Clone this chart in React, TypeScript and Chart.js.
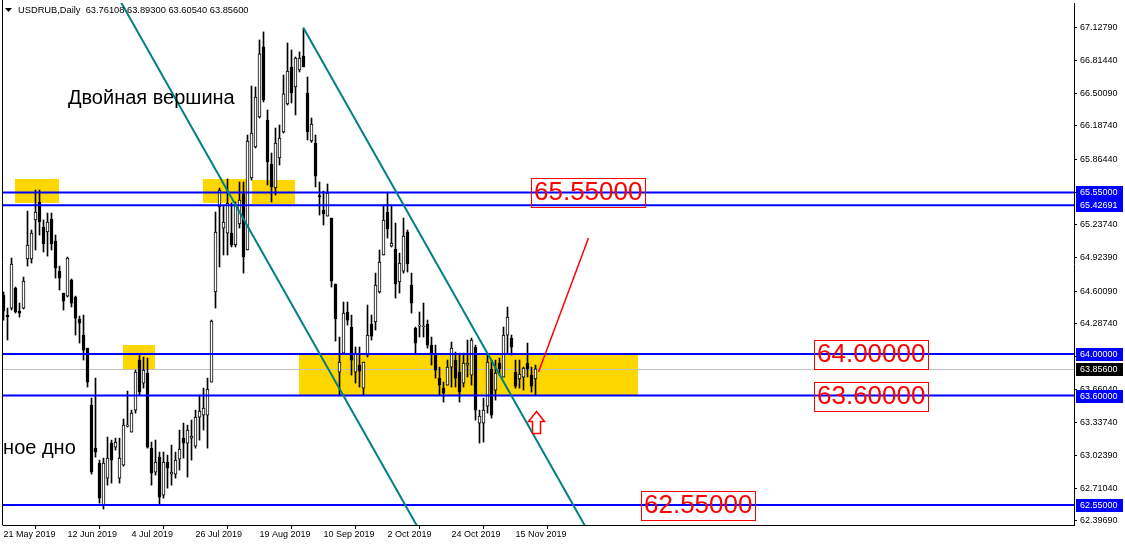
import { useEffect, useRef } from 'react';
import { Chart, registerables } from 'chart.js';
Chart.register(...registerables);

// ---- Daily candles USDRUB, 21 May 2019 .. 25 Nov 2019 (one bar per weekday) ----
const OPEN = [
  64.565, 64.373, 64.44, 64.632, 64.411, 64.44, 64.911, 64.911, 65.285, 65.458,
  65.218, 65.17, 65.295, 65.083, 64.795, 64.584, 64.555, 64.709, 64.546, 64.335,
  64.181, 64.056, 63.509, 63.096, 62.952, 62.549, 62.808, 63.144, 63.106, 62.808,
  62.933, 63.307, 63.25, 63.461, 63.941, 63.72, 63.816, 63.096, 62.866, 63.01,
  62.645, 62.962, 62.847, 62.847, 62.991, 63.192, 63.144, 63.192, 63.115, 63.394,
  63.413, 63.413, 63.73, 64.594, 65.41, 65.208, 65.16, 65.16, 65.045, 65.247,
  65.535, 64.997, 65.688, 65.986, 66.274, 66.946, 66.245, 65.823, 65.592, 65.88,
  66.13, 66.399, 66.754, 66.562, 66.725, 66.859, 66.504, 66.043, 66.024, 65.515,
  65.381, 65.323, 65.304, 64.671, 63.826, 64.008, 64.402, 64.258, 63.826, 63.893,
  63.672, 63.989, 64.287, 64.306, 64.594, 64.949, 65.362, 65.035, 65.007, 64.69,
  64.795, 65.17, 64.661, 64.248, 64.267, 64.258, 64.287, 64.085, 63.989, 63.768,
  63.672, 63.701, 63.874, 63.941, 63.826, 63.72, 63.893, 63.797, 64.066, 63.336,
  63.336, 63.499, 63.855, 63.653, 63.912, 63.778, 64.181, 64.152, 63.826, 63.759,
  63.778, 63.912, 63.797, 63.761,
];
const HIGH = [
  64.594, 64.44, 64.92, 64.642, 64.488, 64.738, 65.371, 65.189, 65.573, 65.573,
  65.285, 65.352, 65.352, 65.141, 64.843, 64.584, 64.93, 64.719, 64.555, 64.363,
  64.373, 64.056, 63.576, 63.768, 62.981, 63.0, 63.202, 63.173, 63.192, 63.192,
  63.375, 63.643, 63.461, 63.845, 63.989, 63.97, 63.96, 63.154, 63.173, 63.058,
  63.058, 63.029, 63.125, 63.058, 63.269, 63.336, 63.317, 63.365, 63.461, 63.605,
  63.672, 63.768, 64.325, 65.362, 65.592, 65.429, 65.679, 65.448, 65.458, 65.65,
  65.65, 66.101, 66.571, 66.562, 67.013, 67.09, 66.341, 65.928, 66.168, 66.197,
  66.677, 66.984, 66.917, 66.85, 66.898, 67.128, 66.658, 66.264, 66.101, 65.65,
  65.563, 65.631, 65.304, 64.671, 64.162, 64.498, 64.498, 64.373, 64.066, 64.066,
  63.922, 64.469, 64.373, 64.776, 64.997, 65.429, 65.544, 65.429, 65.256, 64.968,
  65.304, 65.189, 64.776, 64.258, 64.402, 64.488, 64.325, 64.162, 64.085, 63.874,
  63.73, 63.941, 64.114, 64.018, 64.008, 64.008, 64.133, 64.152, 64.085, 63.461,
  63.576, 64.008, 63.941, 63.941, 63.96, 64.258, 64.45, 64.181, 63.941, 63.941,
  63.874, 64.104, 63.874, 63.893,
];
const LOW = [
  64.325, 64.133, 64.421, 64.392, 64.354, 64.431, 64.843, 64.872, 64.997, 65.141,
  64.978, 64.939, 64.997, 64.728, 64.613, 64.421, 64.546, 64.45, 64.181, 64.104,
  63.941, 63.682, 62.847, 63.01, 62.568, 62.511, 62.741, 62.76, 63.077, 62.76,
  62.923, 63.298, 63.25, 63.432, 63.605, 63.672, 63.096, 62.741, 62.837, 62.549,
  62.616, 62.712, 62.741, 62.808, 62.885, 63.0, 62.818, 62.981, 63.096, 63.173,
  63.269, 63.096, 63.73, 64.44, 64.834, 64.949, 64.949, 65.026, 65.026, 65.208,
  64.776, 64.997, 65.669, 65.976, 66.264, 66.418, 65.621, 65.458, 65.525, 65.813,
  66.12, 66.389, 66.408, 66.293, 66.706, 66.754, 66.053, 66.03, 65.602, 65.333,
  65.237, 65.323, 64.642, 64.123, 63.605, 64.008, 64.277, 63.797, 63.72, 63.682,
  63.605, 63.97, 64.133, 64.229, 64.584, 64.949, 65.112, 65.026, 64.536, 64.584,
  64.776, 64.786, 64.392, 64.008, 64.162, 64.162, 64.056, 63.893, 63.768, 63.605,
  63.538, 63.701, 63.682, 63.682, 63.538, 63.682, 63.778, 63.701, 63.365, 63.144,
  63.154, 63.432, 63.384, 63.557, 63.797, 63.778, 64.008, 63.989, 63.672, 63.672,
  63.653, 63.778, 63.634, 63.605,
];
const CLOSE = [
  64.411, 64.354, 64.863, 64.402, 64.392, 64.699, 65.045, 65.16, 65.362, 65.266,
  65.055, 65.266, 65.055, 64.824, 64.728, 64.507, 64.92, 64.488, 64.344, 64.296,
  64.037, 63.73, 62.866, 63.058, 62.616, 62.952, 63.0, 62.981, 63.154, 63.0,
  63.317, 63.317, 63.432, 63.826, 63.634, 63.845, 63.106, 62.856, 62.962, 62.626,
  62.962, 62.904, 62.866, 62.981, 63.087, 63.144, 63.269, 63.211, 63.394, 63.451,
  63.48, 63.663, 64.315, 65.17, 65.573, 65.266, 65.448, 65.045, 65.439, 65.477,
  64.93, 66.043, 66.12, 66.466, 66.879, 66.437, 65.842, 65.602, 66.024, 66.072,
  66.495, 66.715, 66.504, 66.84, 66.84, 66.754, 66.13, 66.207, 65.707, 65.51,
  65.343, 65.544, 64.699, 64.335, 63.922, 64.392, 64.325, 63.941, 64.008, 63.835,
  63.922, 64.181, 64.171, 64.661, 64.882, 65.285, 65.199, 65.064, 64.671, 64.872,
  65.131, 64.863, 64.488, 64.104, 64.277, 64.267, 64.085, 64.008, 63.845, 63.701,
  63.624, 63.874, 64.056, 63.768, 63.634, 63.912, 63.912, 64.133, 63.461, 63.403,
  63.461, 63.922, 63.413, 63.816, 63.855, 64.181, 64.354, 64.066, 63.691, 63.807,
  63.864, 63.855, 63.691, 63.856,
];

const TICK_BARS = [0, 16, 32, 48, 64, 80, 96, 112, 128];
const DATE_LABELS = ['21 May 2019', '12 Jun 2019', '4 Jul 2019', '26 Jul 2019', '19 Aug 2019', '10 Sep 2019', '2 Oct 2019', '24 Oct 2019', '15 Nov 2019'];
const PRICE_TICKS = [67.1279, 66.8144, 66.5009, 66.1874, 65.8644, 65.5509, 65.2374, 64.9239, 64.6009, 64.2874, 63.9739, 63.6604, 63.3374, 63.0239, 62.7104, 62.3969];

const LEVELS = [65.55, 65.42691, 64.0, 63.6, 62.55];
const BID = 63.856;
const HEADER = 'USDRUB,Daily  63.76108 63.89300 63.60540 63.85600';

// zones: [startBar, endBar, topPrice, bottomPrice]
const ZONE_START = [2.9, 49.9, 62.0, 29.9, 73.9];
const ZONE_END = [13.9, 60.6, 72.9, 37.9, 158.6];
const ZONE_TOP = [65.68, 65.68, 65.67, 64.085, 64.0];
const ZONE_BOTTOM = [65.448, 65.448, 65.44, 63.855, 63.6];

// channel lines [bar, price] pairs
const CHANNEL_A = [[20, 68.011], [110, 61.9]];
const CHANNEL_B = [[75, 67.128], [160, 61.357]];
const FORECAST = [[133.75, 63.826], [146.25, 65.112]];

// boxed price captions: text, bar of left edge, price
const CAPTION_TEXT = ['65.55000', '64.00000', '63.60000', '62.55000'];
const CAPTION_BAR = [131.9, 202.6, 202.6, 159.4];
const CAPTION_PRICE = [65.55, 64.0, 63.6, 62.55];

const NOTE_TEXT = ['Двойная вершина', 'ное дно'];
const NOTE_BAR = [16.1, -0.1];
const NOTE_PRICE = [66.398, 63.035];

const ARROW_BAR = 133;
const ARROW_PRICE = 63.449;

const X_MIN = -0.125;
const X_MAX = 267.625;
const Y_MIN = 62.3582;
const Y_MAX = 67.3678;

const FONT = '"Liberation Sans", Arial, sans-serif';

export default function App() {
  const ref = useRef<HTMLCanvasElement | null>(null);
  useEffect(() => {
    document.body.style.margin = '0';
    const canvas = ref.current!;
    const up = OPEN.map((o, i) => CLOSE[i] >= o);
    const bodies = OPEN.map((o, i) => ({ x: i, y: [o, CLOSE[i]] }));
    const wicks = OPEN.map((_, i) => ({ x: i, y: [LOW[i], HIGH[i]] }));
    const hline = (p: number) => [{ x: X_MIN, y: p }, { x: X_MAX, y: p }];
    const seg = (s: number[][]) => s.map(([x, y]) => ({ x, y }));

    const overlay = {
      id: 'overlay',
      beforeDatasetsDraw(chart: any) {
        const { ctx, chartArea: a, scales } = chart;
        const xs = scales.x, ys = scales.y;
        ctx.save();
        ctx.beginPath();
        ctx.rect(a.left, a.top, a.right - a.left, a.bottom - a.top);
        ctx.clip();
        ctx.fillStyle = '#FFD700';
        for (let i = 0; i < ZONE_START.length; i++) {
          const x0 = Math.round(xs.getPixelForValue(ZONE_START[i]));
          const x1 = Math.round(xs.getPixelForValue(ZONE_END[i]));
          const y0 = Math.round(ys.getPixelForValue(ZONE_TOP[i]));
          const y1 = Math.round(ys.getPixelForValue(ZONE_BOTTOM[i]));
          ctx.fillRect(x0, y0, x1 - x0, y1 - y0);
        }
        const yb = Math.round(ys.getPixelForValue(BID)) + 0.5;
        ctx.strokeStyle = '#C0C0C0';
        ctx.lineWidth = 1;
        ctx.beginPath();
        ctx.moveTo(a.left, yb);
        ctx.lineTo(a.right, yb);
        ctx.stroke();
        ctx.restore();
      },
      afterDraw(chart: any) {
        const { ctx, chartArea: a, scales } = chart;
        const xs = scales.x, ys = scales.y;
        ctx.save();
        // frame left
        ctx.strokeStyle = '#000';
        ctx.lineWidth = 1;
        ctx.beginPath();
        ctx.moveTo(2.5, 0);
        ctx.lineTo(2.5, a.bottom + 0.5);
        ctx.stroke();

        // header
        ctx.fillStyle = '#000';
        ctx.beginPath();
        ctx.moveTo(5, 8);
        ctx.lineTo(12, 8);
        ctx.lineTo(8.5, 12);
        ctx.closePath();
        ctx.fill();
        ctx.font = `9.3px ${FONT}`;
        ctx.textBaseline = 'middle';
        ctx.textAlign = 'left';
        ctx.fillText(HEADER, 18, 10.5);

        ctx.save();
        ctx.beginPath();
        ctx.rect(a.left, a.top, a.right - a.left, a.bottom - a.top);
        ctx.clip();
        // notes
        ctx.font = `20px ${FONT}`;
        ctx.textBaseline = 'alphabetic';
        ctx.fillStyle = '#000';
        for (let i = 0; i < NOTE_TEXT.length; i++) {
          ctx.fillText(NOTE_TEXT[i], xs.getPixelForValue(NOTE_BAR[i]), ys.getPixelForValue(NOTE_PRICE[i]));
        }
        // boxed captions
        ctx.font = `26px ${FONT}`;
        ctx.textBaseline = 'middle';
        for (let i = 0; i < CAPTION_TEXT.length; i++) {
          const x0 = Math.round(xs.getPixelForValue(CAPTION_BAR[i]));
          const yc = Math.round(ys.getPixelForValue(CAPTION_PRICE[i]));
          const w = ctx.measureText(CAPTION_TEXT[i]).width;
          ctx.fillStyle = '#FF0000';
          ctx.fillText(CAPTION_TEXT[i], x0 + 3, yc + 1);
          ctx.strokeStyle = '#FF0000';
          ctx.lineWidth = 1;
          ctx.strokeRect(x0 + 0.5, yc - 13.5, Math.round(w) + 6, 29);
        }
        // arrow
        const ax = Math.round(xs.getPixelForValue(ARROW_BAR)) + 0.5;
        const ay = Math.round(ys.getPixelForValue(ARROW_PRICE)) + 0.5;
        ctx.beginPath();
        ctx.moveTo(ax, ay);
        ctx.lineTo(ax + 8, ay + 10);
        ctx.lineTo(ax + 4, ay + 10);
        ctx.lineTo(ax + 4, ay + 22);
        ctx.lineTo(ax - 4, ay + 22);
        ctx.lineTo(ax - 4, ay + 10);
        ctx.lineTo(ax - 8, ay + 10);
        ctx.closePath();
        ctx.fillStyle = '#fff';
        ctx.fill();
        ctx.strokeStyle = '#FF0000';
        ctx.lineWidth = 1.5;
        ctx.stroke();
        ctx.restore();

        // axis price boxes
        ctx.font = `9px ${FONT}`;
        ctx.textBaseline = 'middle';
        const boxes = LEVELS.map((v) => ({ v, bg: '#0000FF' })).concat([{ v: BID, bg: '#000000' }]);
        for (const b of boxes) {
          const y = Math.round(ys.getPixelForValue(b.v));
          ctx.fillStyle = b.bg;
          ctx.fillRect(a.right + 2, y - 6, 47, 13);
          ctx.fillStyle = '#fff';
          ctx.fillText(b.v.toFixed(5), a.right + 6, y + 0.5);
        }
        ctx.restore();
      },
    };

    const chart = new Chart(canvas, {
      type: 'bar',
      data: {
        datasets: [
          { type: 'line', data: seg(FORECAST) as any, borderColor: '#FF0000', borderWidth: 1.5, pointRadius: 0, order: 0 },
          { type: 'line', data: seg(CHANNEL_A) as any, borderColor: '#008080', borderWidth: 2, pointRadius: 0, order: 1 },
          { type: 'line', data: seg(CHANNEL_B) as any, borderColor: '#008080', borderWidth: 2, pointRadius: 0, order: 1 },
          ...LEVELS.map((p) => ({ type: 'line', data: hline(p) as any, borderColor: '#0000FF', borderWidth: 2, pointRadius: 0, order: 2 })),
          {
            type: 'bar', data: bodies as any, backgroundColor: up.map((u) => (u ? '#ffffff' : '#000000')),
            borderColor: '#000', borderWidth: 1, borderSkipped: false, barThickness: 3, grouped: false, minBarLength: 1, order: 4,
          },
          { type: 'bar', data: wicks as any, backgroundColor: '#000', borderWidth: 0, barThickness: 1, grouped: false, order: 5 },
        ] as any,
      },
      options: {
        animation: false,
        responsive: false,
        maintainAspectRatio: false,
        events: [],
        layout: { padding: { left: 3, top: 3, right: 0, bottom: 0 } },
        plugins: { legend: { display: false }, tooltip: { enabled: false } },
        scales: {
          x: {
            type: 'linear', min: X_MIN, max: X_MAX, offset: false,
            afterBuildTicks: (s: any) => { s.ticks = TICK_BARS.map((v) => ({ value: v })); },
            afterFit: (s: any) => { s.height = 21; s.paddingLeft = 0; s.paddingRight = 0; },
            ticks: {
              autoSkip: false, maxRotation: 0, align: 'start', padding: 0, color: '#000',
              font: { family: FONT, size: 9 },
              callback: (_v: any, i: number) => DATE_LABELS[i],
            },
            grid: { drawOnChartArea: false, drawTicks: true, tickLength: 4, color: '#000' },
            border: { display: true, color: '#000' },
          },
          y: {
            type: 'linear', position: 'right', min: Y_MIN, max: Y_MAX,
            afterBuildTicks: (s: any) => { s.ticks = PRICE_TICKS.map((v) => ({ value: v })); },
            afterFit: (s: any) => { s.width = 51; s.paddingTop = 0; s.paddingBottom = 0; },
            ticks: {
              autoSkip: false, padding: 3, color: '#000', font: { family: FONT, size: 9 },
              callback: (v: any) => Number(v).toFixed(5),
            },
            grid: { drawOnChartArea: false, drawTicks: true, tickLength: 3, color: '#000' },
            border: { display: true, color: '#000' },
          },
        } as any,
      },
      plugins: [overlay],
    });
    return () => chart.destroy();
  }, []);
  return <canvas ref={ref} width={1125} height={546} style={{ display: 'block', width: 1125, height: 546 }} />;
}
